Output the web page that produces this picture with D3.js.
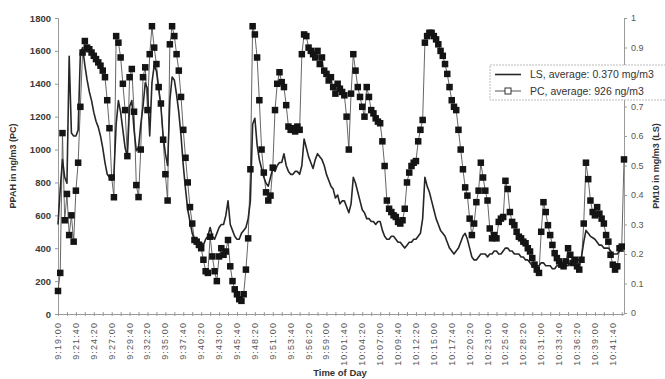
<!DOCTYPE html>
<html>
<head>
<meta charset="utf-8">
<script src="https://cdn.jsdelivr.net/npm/d3@7"></script>
<style>
  body { margin: 0; background: #fff; }
  text { font-family: Arial, "Liberation Sans", sans-serif; }
</style>
</head>
<body>
<div id="chart"></div>
<script>
// PC readings (ng/m3), one every 20 s from 9:19:00
const pc = [
  140, 250, 1100, 570, 730, 480, 600, 440, 750, 920,
  1260, 1590, 1660, 1620, 1610, 1590, 1570, 1550, 1530, 1510,
  1480, 1440, 1300, 1130, 830, 710, 1690, 1650, 1560, 1400,
  1240, 960, 1440, 1490, 1230, 784, 711, 1000, 1440, 1500,
  1240, 1580, 1750, 1620, 1520, 1380, 1280, 1060, 850, 690,
  1640, 1750, 1690, 1580, 1480, 1320, 1120, 950, 800, 650,
  550, 450, 440, 420, 400, 330, 260, 250, 470, 350,
  260, 200, 350, 400, 360, 380, 450, 290, 200, 150,
  120, 90, 80, 120, 270, 460, 880, 1750, 1700, 1560,
  1300, 1000, 860, 740, 690, 720, 890, 1240, 1400, 1470,
  1410, 1380, 1270, 1140, 1120, 1130, 1110, 1140, 1120, 1580,
  1700, 1690, 1620, 1600, 1580, 1560, 1600, 1520, 1560, 1480,
  1460, 1420, 1440, 1380, 1340, 1400, 1370, 1350, 1330, 1200,
  1000, 1340, 1580, 1480, 1380, 1320, 1260, 1200, 1380, 1320,
  1240, 1220, 1190, 1170, 1160, 1050, 900, 690, 640, 620,
  600, 590, 560, 550, 570, 640, 800, 860, 900, 920,
  930, 1050, 1120, 1180, 1650, 1690, 1710, 1710, 1690, 1670,
  1640, 1600, 1570, 1520, 1460, 1380, 1300, 1260, 1240, 1120,
  1000, 880, 770, 720, 580, 480, 550, 680, 750, 920,
  830, 750, 690, 520, 460, 480, 460, 560, 580, 590,
  810, 760, 620, 560, 540, 500, 470, 460, 440, 430,
  400, 380, 340, 300, 270, 250, 500, 680, 620, 540,
  480, 420, 370, 340, 320, 300, 290, 320, 400, 360,
  310, 330, 290, 270, 330, 550, 920, 820, 690, 620,
  600, 650, 610, 580, 550, 480, 440, 360, 300, 270,
  290, 400, 410, 940
];

// LS readings (mg/m3), same timestamps
const ls = [
  0.30, 0.42, 0.52, 0.46, 0.44, 0.87, 0.61, 0.60, 0.60, 0.62,
  0.88, 0.90, 0.84, 0.79, 0.75, 0.72, 0.68, 0.65, 0.63, 0.60,
  0.56, 0.51, 0.47, 0.46, 0.45, 0.47, 0.64, 0.72, 0.68, 0.62,
  0.56, 0.53, 0.70, 0.72, 0.62, 0.55, 0.56, 0.64, 0.70, 0.78,
  0.76, 0.60, 0.78, 0.84, 0.82, 0.76, 0.70, 0.60, 0.54, 0.50,
  0.72, 0.80, 0.79, 0.74, 0.68, 0.60, 0.50, 0.42, 0.35, 0.31,
  0.27, 0.25, 0.25, 0.24, 0.24, 0.23, 0.25, 0.26, 0.29, 0.26,
  0.25, 0.27, 0.29, 0.30, 0.30, 0.33, 0.38, 0.30, 0.28, 0.26,
  0.25, 0.25, 0.27, 0.28, 0.29, 0.32, 0.38, 0.64, 0.66, 0.57,
  0.52, 0.49, 0.46, 0.44, 0.43, 0.46, 0.49, 0.48, 0.50, 0.51,
  0.51, 0.54, 0.50, 0.48, 0.47, 0.47, 0.48, 0.48, 0.47, 0.50,
  0.59, 0.56, 0.53, 0.51, 0.49, 0.52, 0.54, 0.53, 0.52, 0.50,
  0.47, 0.45, 0.43, 0.42, 0.39, 0.40, 0.37, 0.38, 0.38, 0.36,
  0.34, 0.37, 0.46, 0.44, 0.41, 0.38, 0.35, 0.34, 0.32, 0.32,
  0.31, 0.31, 0.30, 0.31, 0.31, 0.28, 0.26, 0.25, 0.25, 0.26,
  0.26, 0.25, 0.24, 0.24, 0.23, 0.22, 0.23, 0.24, 0.24, 0.25,
  0.25, 0.26, 0.27, 0.32, 0.46, 0.43, 0.41, 0.38, 0.35, 0.32,
  0.30, 0.28, 0.27, 0.26, 0.24, 0.22, 0.21, 0.20, 0.21, 0.22,
  0.24, 0.26, 0.27, 0.25, 0.22, 0.19, 0.18, 0.18, 0.19, 0.20,
  0.20, 0.20, 0.19, 0.20, 0.20, 0.21, 0.21, 0.20, 0.20, 0.21,
  0.22, 0.22, 0.21, 0.21, 0.20, 0.20, 0.20, 0.19, 0.19, 0.18,
  0.18, 0.17, 0.16, 0.16, 0.16, 0.16, 0.17, 0.17, 0.16, 0.16,
  0.16, 0.15, 0.15, 0.16, 0.16, 0.17, 0.17, 0.16, 0.16, 0.17,
  0.18, 0.18, 0.18, 0.18, 0.19, 0.24, 0.28, 0.27, 0.26, 0.255,
  0.25, 0.24, 0.23, 0.23, 0.22, 0.22, 0.22, 0.21, 0.20, 0.20,
  0.20, 0.21, 0.21, 0.21
];

const timeLabels = [
  '9:19:00', '9:21:40', '9:24:20', '9:27:00', '9:29:40', '9:32:20', '9:35:00', '9:37:40',
  '9:40:20', '9:43:00', '9:45:40', '9:48:20', '9:51:00', '9:53:40', '9:56:20', '9:59:00',
  '10:01:40', '10:04:20', '10:07:00', '10:09:40', '10:12:20', '10:15:00', '10:17:40', '10:20:20',
  '10:23:00', '10:25:40', '10:28:20', '10:31:00', '10:33:40', '10:36:20', '10:39:00', '10:41:40'
];
const labelEvery = 8;

const pcTicks = [0, 200, 400, 600, 800, 1000, 1200, 1400, 1600, 1800];
// 0.8 sits behind the legend box in the original, so it gets a tick but no label
const lsTicks = [0, 0.1, 0.2, 0.3, 0.4, 0.5, 0.6, 0.7, 0.8, 0.9, 1];
const lsHiddenLabel = 0.8;

const legendLabels = ['LS, average: 0.370 mg/m3', 'PC, average: 926 ng/m3'];

const width = 665;
const height = 379;
const plot = { left: 58, right: 624, top: 18, bottom: 314 };

const svg = d3.select('#chart').append('svg')
  .attr('width', width)
  .attr('height', height);

const x = d3.scaleLinear()
  .domain([0, pc.length - 1])
  .range([plot.left, plot.right]);

const yPC = d3.scaleLinear().domain([0, 1800]).range([plot.bottom, plot.top]);
const yLS = d3.scaleLinear().domain([0, 1]).range([plot.bottom - 1, plot.top]);

// axes
const axisColor = '#9a9a9a';

const xAxis = d3.axisBottom(x)
  .tickValues(d3.range(0, pc.length, 4))
  .tickSize(0)
  .tickFormat('');
const gx = svg.append('g')
  .attr('transform', `translate(0,${plot.bottom})`)
  .call(xAxis);
gx.select('.domain').attr('stroke', axisColor);
gx.selectAll('.tick').append('line')
  .attr('y1', -2).attr('y2', 2)
  .attr('stroke', axisColor);

svg.append('g')
  .selectAll('text')
  .data(timeLabels)
  .enter()
  .append('text')
    .attr('transform', (d, i) => `translate(${x(i * labelEvery) + 3},322) rotate(-90)`)
    .attr('text-anchor', 'end')
    .attr('font-size', 9)
    .attr('letter-spacing', 1.1)
    .attr('fill', '#555')
    .text(d => d);

const gy = svg.append('g')
  .attr('transform', `translate(${plot.left},0)`)
  .call(d3.axisLeft(yPC).tickValues(pcTicks).tickSize(3).tickPadding(4).tickFormat(d => String(d)));
gy.select('.domain').attr('stroke', axisColor);
gy.selectAll('.tick line').attr('stroke', axisColor);
gy.selectAll('.tick text')
  .attr('font-size', 9.5)
  .attr('font-weight', 'bold')
  .attr('fill', '#3a3a3a');

const gy2 = svg.append('g')
  .attr('transform', `translate(${plot.right},0)`)
  .call(d3.axisRight(yLS).tickValues(lsTicks).tickSize(3).tickPadding(4)
    .tickFormat(d => d === lsHiddenLabel ? '' : String(d)));
gy2.select('.domain').attr('stroke', axisColor);
gy2.selectAll('.tick line').attr('stroke', axisColor);
gy2.selectAll('.tick text')
  .attr('font-size', 9)
  .attr('fill', '#555');

// axis titles
svg.append('text')
  .attr('transform', `translate(16,${(plot.top + plot.bottom) / 2}) rotate(-90)`)
  .attr('text-anchor', 'middle')
  .attr('font-size', 9)
  .attr('font-weight', 'bold')
  .attr('fill', '#333')
  .text('PPAH in ng/m3 (PC)');

svg.append('text')
  .attr('transform', `translate(659,${(plot.top + plot.bottom) / 2}) rotate(-90)`)
  .attr('text-anchor', 'middle')
  .attr('font-size', 9)
  .attr('font-weight', 'bold')
  .attr('fill', '#333')
  .text('PM10 in mg/m3 (LS)');

svg.append('text')
  .attr('x', 340)
  .attr('y', 376)
  .attr('text-anchor', 'middle')
  .attr('font-size', 9.5)
  .attr('font-weight', 'bold')
  .attr('fill', '#333')
  .text('Time of Day');

// PC series
const pcLine = d3.line()
  .x((d, i) => x(i))
  .y(d => yPC(d));

svg.append('path')
  .datum(pc)
  .attr('d', pcLine)
  .attr('fill', 'none')
  .attr('stroke', '#555')
  .attr('stroke-width', 0.9);

// LS series
const lsLine = d3.line()
  .x((d, i) => x(i))
  .y(d => yLS(d));

svg.append('path')
  .datum(ls)
  .attr('d', lsLine)
  .attr('fill', 'none')
  .attr('stroke', '#262626')
  .attr('stroke-width', 1.6)
  .attr('stroke-linejoin', 'round');

const ms = 6.5;
svg.append('g')
  .selectAll('rect')
  .data(pc)
  .enter()
  .append('rect')
    .attr('x', (d, i) => x(i) - ms / 2)
    .attr('y', d => yPC(d) - ms / 2)
    .attr('width', ms)
    .attr('height', ms)
    .attr('fill', '#141414');

// legend
const lg = svg.append('g').attr('transform', 'translate(490,65)');
lg.append('rect')
  .attr('width', 190)
  .attr('height', 35)
  .attr('fill', '#fff')
  .attr('stroke', '#aaa')
  .attr('stroke-dasharray', '2,1')
  .attr('stroke-width', 0.8);

lg.append('line')
  .attr('x1', 5).attr('x2', 31)
  .attr('y1', 9.5).attr('y2', 9.5)
  .attr('stroke', '#262626')
  .attr('stroke-width', 1.6);

lg.append('line')
  .attr('x1', 5).attr('x2', 31)
  .attr('y1', 26).attr('y2', 26)
  .attr('stroke', '#555')
  .attr('stroke-width', 1);
lg.append('rect')
  .attr('x', 15).attr('y', 23)
  .attr('width', 6).attr('height', 6)
  .attr('fill', '#fff')
  .attr('stroke', '#333');

lg.selectAll('text.lbl')
  .data(legendLabels)
  .enter()
  .append('text')
    .attr('class', 'lbl')
    .attr('x', 40)
    .attr('y', (d, i) => 13 + i * 16.5)
    .attr('font-size', 10.5)
    .attr('fill', '#333')
    .text(d => d);
</script>
</body>
</html>
